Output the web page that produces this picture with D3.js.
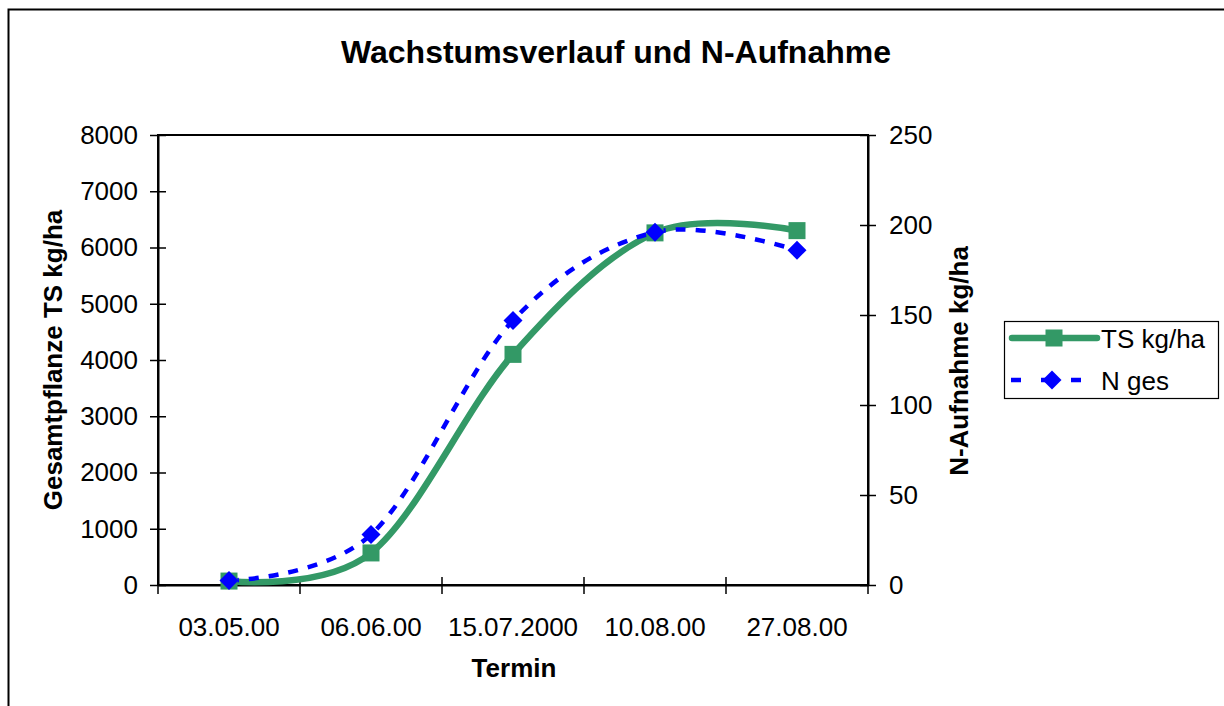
<!DOCTYPE html>
<html>
<head>
<meta charset="utf-8">
<script src="https://cdn.jsdelivr.net/npm/d3@7"></script>
<style>
  html, body { margin: 0; padding: 0; background: #fff; }
  svg { display: block; font-family: "Liberation Sans", Arial, sans-serif; }
</style>
</head>
<body>
<svg id="chart" width="1224" height="706"></svg>
<script>
// ---- data ----
const categories = ["03.05.00", "06.06.00", "15.07.2000", "10.08.00", "27.08.00"];
const tsValues = [70, 570, 4100, 6260, 6300];     // TS kg/ha (left axis)
const nValues = [2.5, 28, 147, 196, 186];        // N ges (right axis)
const leftTicks = [0, 1000, 2000, 3000, 4000, 5000, 6000, 7000, 8000];
const rightTicks = [0, 50, 100, 150, 200, 250];
const seriesNames = ["TS kg/ha", "N ges"];

const svg = d3.select("#chart");
const plot = { left: 158, right: 868, top: 135, bottom: 585 };
const GREEN = "#339966", BLUE = "#0000FF";
const FONT = 26;

// outer chart border
svg.append("rect").attr("x", 8.5).attr("y", 9.5).attr("width", 1240).attr("height", 720)
  .attr("fill", "#fff").attr("stroke", "#000").attr("stroke-width", 2);

// scales
const x = d3.scaleBand().domain(categories).range([plot.left, plot.right]).padding(0);
const yL = d3.scaleLinear().domain([0, 8000]).range([plot.bottom, plot.top]);
const yR = d3.scaleLinear().domain([0, 250]).range([plot.bottom, plot.top]);
const cx = c => x(c) + x.bandwidth() / 2;

// title
svg.append("text").attr("x", 616).attr("y", 63).attr("text-anchor", "middle")
  .attr("font-size", 32).attr("font-weight", "bold").text("Wachstumsverlauf und N-Aufnahme");

// plot border
svg.append("rect").attr("x", plot.left).attr("y", plot.top)
  .attr("width", plot.right - plot.left).attr("height", plot.bottom - plot.top)
  .attr("fill", "none").attr("stroke", "#000").attr("stroke-width", 2);

// left axis
const gL = svg.append("g").attr("transform", `translate(${plot.left},0)`)
  .call(d3.axisLeft(yL).tickValues(leftTicks).tickFormat(d3.format("d")).tickSizeInner(8).tickSizeOuter(0).tickPadding(12));
gL.selectAll(".tick line").attr("x2", -8).attr("x1", 8).attr("stroke-width", 1.5);
gL.select(".domain").attr("stroke-width", 2);
gL.selectAll(".tick text").attr("font-size", FONT).attr("font-family", "Liberation Sans, Arial, sans-serif").attr("fill", "#000");

// right axis
const gR = svg.append("g").attr("transform", `translate(${plot.right},0)`)
  .call(d3.axisRight(yR).tickValues(rightTicks).tickFormat(d3.format("d")).tickSizeInner(8).tickSizeOuter(0).tickPadding(13));
gR.selectAll(".tick line").attr("x1", -8).attr("x2", 8).attr("stroke-width", 1.5);
gR.select(".domain").attr("stroke-width", 2);
gR.selectAll(".tick text").attr("font-size", FONT).attr("font-family", "Liberation Sans, Arial, sans-serif").attr("fill", "#000");

// bottom axis: ticks at category boundaries
const gB = svg.append("g").attr("transform", `translate(0,${plot.bottom})`)
  .call(d3.axisBottom(x).tickSize(0).tickPadding(33));
gB.select(".domain").attr("stroke-width", 2);
gB.selectAll(".tick line").remove();
gB.selectAll(".tick text").attr("font-size", FONT).attr("font-family", "Liberation Sans, Arial, sans-serif").attr("fill", "#000");
const boundaries = categories.map(c => x(c)).concat([plot.right]);
gB.selectAll(".bt").data(boundaries).enter().append("line")
  .attr("x1", d => d).attr("x2", d => d).attr("y1", -8).attr("y2", 9)
  .attr("stroke", "#000").attr("stroke-width", 1.5);

// axis titles
svg.append("text").attr("x", 514).attr("y", 677).attr("text-anchor", "middle")
  .attr("font-size", FONT).attr("font-weight", "bold").text("Termin");
svg.append("text").attr("transform", "translate(62,360) rotate(-90)").attr("text-anchor", "middle")
  .attr("font-size", FONT).attr("font-weight", "bold").text("Gesamtpflanze TS kg/ha");
svg.append("text").attr("transform", "translate(968,361) rotate(-90)").attr("text-anchor", "middle")
  .attr("font-size", FONT).attr("font-weight", "bold").text("N-Aufnahme kg/ha");

// lines
const tsData = categories.map((c, i) => [cx(c), yL(tsValues[i])]);
const nData = categories.map((c, i) => [cx(c), yR(nValues[i])]);
const line = d3.line().curve(d3.curveCardinal.tension(0));

svg.append("path").attr("d", line(tsData)).attr("fill", "none")
  .attr("stroke", GREEN).attr("stroke-width", 6.5).attr("stroke-linejoin", "round");
svg.append("path").attr("d", line(nData)).attr("fill", "none")
  .attr("stroke", BLUE).attr("stroke-width", 4.5).attr("stroke-dasharray", "10,10");

// markers
const sq = 17, dm = 9.5;
svg.selectAll(".tsm").data(tsData).enter().append("rect")
  .attr("x", d => d[0] - sq / 2).attr("y", d => d[1] - sq / 2)
  .attr("width", sq).attr("height", sq).attr("fill", GREEN);
const diamond = (px, py) => `M${px},${py - dm}L${px + dm},${py}L${px},${py + dm}L${px - dm},${py}Z`;
svg.selectAll(".nm").data(nData).enter().append("path")
  .attr("d", d => diamond(d[0], d[1])).attr("fill", BLUE);

// legend
const lg = svg.append("g");
lg.append("rect").attr("x", 1004.5).attr("y", 321.5).attr("width", 214).attr("height", 77)
  .attr("fill", "#fff").attr("stroke", "#000").attr("stroke-width", 1.2);
lg.append("line").attr("x1", 1012).attr("x2", 1097).attr("y1", 338).attr("y2", 338)
  .attr("stroke", GREEN).attr("stroke-width", 6.5).attr("stroke-linecap", "round");
lg.append("rect").attr("x", 1054 - sq / 2).attr("y", 338 - sq / 2).attr("width", sq).attr("height", sq).attr("fill", GREEN);
lg.append("line").attr("x1", 1011).attr("x2", 1092).attr("y1", 380).attr("y2", 380)
  .attr("stroke", BLUE).attr("stroke-width", 4.5).attr("stroke-dasharray", "10,20");
lg.append("path").attr("d", diamond(1052, 380)).attr("fill", BLUE);
lg.append("text").attr("x", 1101).attr("y", 348).attr("font-size", FONT).text(seriesNames[0]);
lg.append("text").attr("x", 1101).attr("y", 390).attr("font-size", FONT).text(seriesNames[1]);
</script>
</body>
</html>
